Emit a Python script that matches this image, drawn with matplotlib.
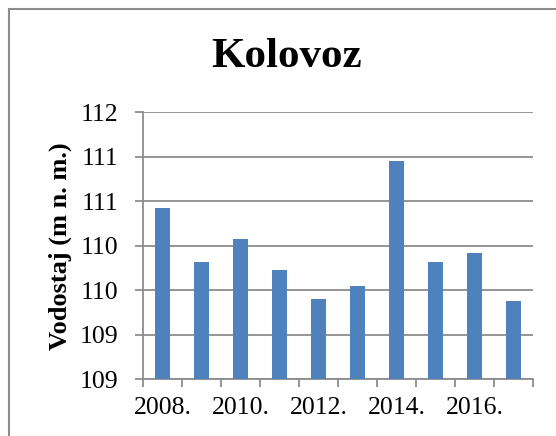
import matplotlib
matplotlib.use("Agg")
import matplotlib.pyplot as plt
from matplotlib.lines import Line2D

years = ["2008.", "2009.", "2010.", "2011.", "2012.", "2013.", "2014.", "2015.", "2016.", "2017."]
values = [110.67, 110.07, 110.32, 109.97, 109.65, 109.80, 111.20, 110.06, 110.17, 109.63]
ytick_vals = [108.75, 109.25, 109.75, 110.25, 110.75, 111.25, 111.75]
ytick_labels = ["109", "109", "110", "110", "111", "111", "112"]

W, H = 556, 436
fig = plt.figure(figsize=(W / 100, H / 100), dpi=100)
plt.rcParams['font.family'] = ['Liberation Serif', 'DejaVu Serif']

ax = fig.add_axes([143 / W, 1 - 379 / H, (533 - 143) / W, (379 - 112) / H])
x = list(range(len(years)))
ax.bar(x, values, width=0.4, color="#4f81bd", bottom=0, zorder=3)
ax.set_ylim(ytick_vals[0], ytick_vals[-1])
ax.set_xlim(-0.5, len(years) - 0.5)
ax.set_yticks(ytick_vals)
ax.set_yticklabels(ytick_labels, fontsize=18.5)
ax.yaxis.grid(True, color="#8c8c8c", linewidth=1.3, zorder=0)
ax.set_axisbelow(True)

ax.set_xticks([i - 0.5 for i in range(len(years) + 1)])
ax.set_xticklabels([])
ax.set_xticks(x[::2], minor=True)
ax.set_xticklabels(years[::2], minor=True, fontsize=18.5)
ax.tick_params(axis="x", which="minor", length=0, pad=13)
ax.tick_params(axis="x", which="major", length=6, color="#8c8c8c", width=1.3)
ax.tick_params(axis="y", length=6, color="#8c8c8c", width=1.3, pad=12)

for s in ["top", "right"]:
    ax.spines[s].set_visible(False)
for s in ["left", "bottom"]:
    ax.spines[s].set_color("#8c8c8c")
    ax.spines[s].set_linewidth(1.3)

fig.text(60 / W, 1 - 246 / H, "Vodostaj (m n. m.)", rotation=90, fontsize=19,
         fontweight="bold", ha="center", va="center")
fig.text(287 / W, 1 - 57 / H, "Kolovoz", fontsize=31, fontweight="bold",
         ha="center", va="center")

fig.add_artist(Line2D([8.5 / W, 8.5 / W], [0, 1 - 9.5 / H], transform=fig.transFigure,
                      color="#8c8c8c", linewidth=1.5))
fig.add_artist(Line2D([8.5 / W, 1], [1 - 9.5 / H, 1 - 9.5 / H], transform=fig.transFigure,
                      color="#8c8c8c", linewidth=1.5))

fig.savefig("out.png", dpi=100)
